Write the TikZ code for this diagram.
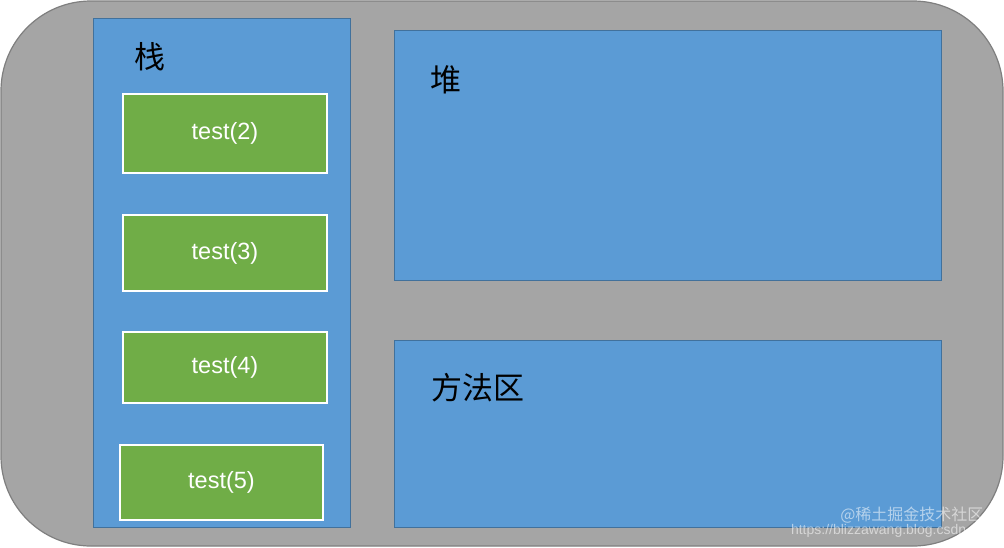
\documentclass[tikz,border=0pt]{standalone}
\usepackage{fontspec}
\setmainfont{Liberation Sans}
\newfontfamily\cjk{Noto Sans CJK SC}
\begin{document}
\begin{tikzpicture}[x=1pt,y=-1pt,
  panel/.style={draw=panelborder, line width=0.8pt, fill=panelblue},
  greenbox/.style={draw=white, line width=2pt, fill=boxgreen, text=white, font=\fontsize{23.5}{26}\selectfont},
  cjklabel/.style={font=\cjk\fontsize{31}{34}\selectfont, text=black, anchor=center}]
\definecolor{outergray}{HTML}{A5A5A5}
\definecolor{outerborder}{HTML}{7F7F7F}
\definecolor{panelblue}{HTML}{5B9BD5}
\definecolor{panelborder}{HTML}{41719C}
\definecolor{boxgreen}{HTML}{70AD47}
\useasboundingbox (0,0) rectangle (1004,547);
\fill[white] (0,0) rectangle (1004,547);
\draw[draw=outerborder, line width=1.2pt, fill=outergray, rounded corners=90pt] (1,1) rectangle (1003,546);
% panels
\draw[panel] (93,18) rectangle (350,527);
\draw[panel] (394,30) rectangle (941,280);
\draw[panel] (394,340) rectangle (941,527);
\node[cjklabel] (stack) at (150,57) {栈};
\node[cjklabel] (heap) at (446,80) {堆};
\node[cjklabel] (method) at (478,388) {方法区};
% green boxes
\node[greenbox, minimum width=204pt, minimum height=79pt] (t2) at (225,133.5) {test(2)};
\node[greenbox, minimum width=204pt, minimum height=76pt] (t3) at (225,253) {test(3)};
\node[greenbox, minimum width=204pt, minimum height=71pt] (t4) at (225,367.5) {test(4)};
\node[greenbox, minimum width=203pt, minimum height=75pt] (t5) at (221.5,482.5) {test(5)};
% watermark
\node[text=white, opacity=0.55, font=\cjk\fontsize{16}{18}\selectfont, anchor=east] (wm1) at (987,515) {@稀土掘金技术社区};
\node[text=white, opacity=0.55, font=\fontsize{14}{16}\selectfont, anchor=east] (wm2) at (993,531) {https://blizzawang.blog.csdn.net};
\end{tikzpicture}
\end{document}
